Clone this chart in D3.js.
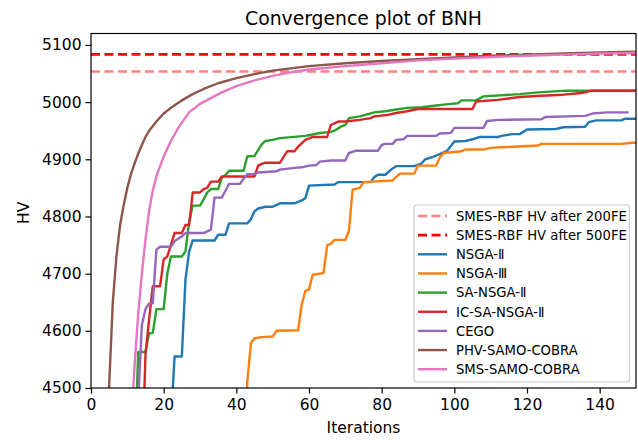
<!DOCTYPE html>
<html>
<head>
<meta charset="utf-8">
<script src="https://cdn.jsdelivr.net/npm/d3@7"></script>
<style>
  body { margin: 0; background: #fff; }
  svg { display: block; font-family: "DejaVu Sans", sans-serif; }
</style>
</head>
<body>
<svg id="chart" width="638" height="440"></svg>
<script>
// reference levels of SMES-RBF
const smes200 = 5053.5;
const smes500 = 5083.5;

// [iteration, HV]
const nsga2 = [[22,4440],[23,4555],[25,4555],[26,4690],[27,4738],[28,4758],[34,4758],[35,4768],[37,4768],[38,4788],[43,4788],[44,4795],[45,4809],[46,4814],[48,4817],[50,4817],[52,4823],[56,4823],[58,4828],[59,4832],[60,4854],[67,4856],[68,4860],[77,4860],[78,4869],[79,4873],[81,4873],[83,4884],[84,4888],[89,4888],[91,4893],[92,4900],[94,4904],[96,4909],[98,4915],[99,4923],[100,4931],[103,4932],[105,4935],[107,4939],[112,4939],[113,4941],[116,4944],[118,4944],[120,4952],[128,4953],[130,4956],[136,4957],[137,4965],[139,4968],[146,4968],[147,4971],[150,4971]];

const nsga3 = [[42,4300],[43,4510],[44,4578],[45,4587],[47,4589],[50,4590],[51,4600],[57,4601],[58,4646],[59,4670],[60,4672],[61,4698],[64,4701],[65,4750],[66,4752],[67,4759],[70,4759],[71,4775],[72,4847],[74,4850],[75,4860],[83,4863],[85,4875],[89,4875],[90,4889],[95,4889],[96,4903],[97,4911],[102,4914],[103,4917],[108,4917],[110,4920],[113,4921],[123,4924],[124,4927],[146,4927],[149,4929],[150,4929]];

const saNsga2 = [[12,4380],[13,4563],[15,4563],[16,4596],[17,4596],[18,4638],[20,4638],[21,4700],[22,4730],[25,4730],[26,4739],[27,4790],[28,4819],[30,4819],[31,4830],[32,4842],[33,4848],[35,4848],[36,4868],[37,4872],[38,4880],[42,4880],[43,4905],[45,4906],[46,4916],[47,4926],[48,4932],[50,4934],[52,4937],[59,4941],[63,4946],[66,4948],[67,4950],[69,4958],[70,4960],[71,4972],[74,4975],[78,4982],[81,4984],[84,4987],[87,4990],[91,4991],[95,4994],[99,4997],[101,4998],[102,5003],[106,5003],[108,5010],[118,5014],[123,5017],[131,5020],[150,5020]];

const icSaNsga2 = [[14,4350],[15,4560],[16,4620],[17,4678],[19,4678],[20,4725],[21,4730],[23,4771],[25,4771],[26,4785],[27,4785],[28,4842],[30,4842],[31,4848],[32,4850],[33,4861],[35,4861],[36,4870],[45,4870],[46,4889],[47,4892],[48,4894],[52,4894],[54,4914],[56,4914],[57,4922],[58,4928],[59,4934],[61,4939],[65,4939],[66,4960],[68,4966],[70,4966],[74,4969],[77,4972],[78,4975],[82,4978],[84,4981],[87,4984],[90,4988],[105,4988],[106,5001],[112,5004],[118,5009],[124,5011],[130,5013],[135,5016],[138,5020],[150,5020]];

const cego = [[13,4480],[14,4610],[15,4638],[16,4648],[17,4648],[18,4742],[19,4747],[22,4747],[23,4757],[25,4765],[26,4771],[31,4771],[33,4777],[34,4833],[36,4833],[37,4845],[38,4857],[41,4857],[42,4866],[43,4874],[45,4874],[46,4877],[51,4879],[52,4882],[56,4885],[58,4886],[60,4889],[62,4890],[63,4896],[66,4898],[70,4898],[71,4911],[73,4915],[79,4915],[80,4925],[81,4927],[83,4927],[84,4934],[86,4935],[87,4941],[95,4941],[96,4945],[99,4946],[100,4955],[108,4955],[109,4967],[112,4969],[124,4970],[125,4974],[136,4976],[138,4980],[142,4982],[148,4982]];

const phvSamo = [[4,4300],[5,4505],[6,4650],[7,4730],[8,4785],[9,4820],[10,4850],[11,4874],[12,4893],[13,4910],[14,4925],[15,4939],[16,4950],[18,4966],[20,4980],[22,4990],[25,5003],[28,5014],[31,5023],[35,5033],[40,5042],[45,5049],[50,5055],[60,5063],[70,5068],[80,5072],[90,5075],[100,5078],[110,5081],[120,5083],[130,5085],[140,5087],[150,5088]];

const smsSamo = [[11,4430],[12,4540],[13,4630],[14,4700],[15,4760],[16,4810],[17,4845],[18,4870],[20,4905],[22,4932],[24,4955],[27,4982],[30,4997],[33,5007],[36,5017],[40,5028],[45,5038],[50,5046],[55,5052],[60,5057],[70,5063],[80,5068],[90,5073],[100,5076],[110,5079],[120,5081],[130,5083],[140,5085],[150,5086]];

const xTicks = [0, 20, 40, 60, 80, 100, 120, 140];
const yTicks = [4500, 4600, 4700, 4800, 4900, 5000, 5100];

const series = [
  { name: "NSGA-Ⅱ", data: nsga2, color: "#1f77b4" },
  { name: "NSGA-Ⅲ", data: nsga3, color: "#ff7f0e" },
  { name: "SA-NSGA-Ⅱ", data: saNsga2, color: "#2ca02c" },
  { name: "IC-SA-NSGA-Ⅱ", data: icSaNsga2, color: "#d62728" },
  { name: "CEGO", data: cego, color: "#9467bd" },
  { name: "PHV-SAMO-COBRA", data: phvSamo, color: "#8c564b" },
  { name: "SMS-SAMO-COBRA", data: smsSamo, color: "#e377c2" }
];
const refs = [
  { name: "SMES-RBF HV after 200FE", value: smes200, color: "#ff8080", w: 2.3 },
  { name: "SMES-RBF HV after 500FE", value: smes500, color: "#ff0000", w: 2.8 }
];

const svg = d3.select("#chart");
const m = { left: 91, right: 636, top: 33.5, bottom: 388 };

const x = d3.scaleLinear().domain([0, 150]).range([m.left, m.right]);
const y = d3.scaleLinear().domain([4500, 5120]).range([m.bottom, m.top]);

svg.append("defs").append("clipPath").attr("id", "clip")
  .append("rect")
  .attr("x", m.left).attr("y", m.top)
  .attr("width", m.right - m.left).attr("height", m.bottom - m.top);

const plot = svg.append("g").attr("clip-path", "url(#clip)");

// dashed reference levels
refs.forEach(r => {
  plot.append("line")
    .attr("x1", x(0)).attr("x2", x(150))
    .attr("y1", y(r.value)).attr("y2", y(r.value))
    .attr("stroke", r.color)
    .attr("stroke-width", r.w)
    .attr("stroke-dasharray", "9,4.5");
});

const line = d3.line()
  .x(d => x(d[0]))
  .y(d => y(d[1]));

series.forEach(s => {
  plot.append("path")
    .datum(s.data)
    .attr("fill", "none")
    .attr("stroke", s.color)
    .attr("stroke-width", 2.4)
    .attr("stroke-linejoin", "round")
    .attr("d", line);
});

// axes
const xAxis = svg.append("g")
  .attr("transform", "translate(0," + m.bottom + ")")
  .call(d3.axisBottom(x).tickValues(xTicks).tickSize(5.5).tickPadding(5).tickSizeOuter(0));
const yAxis = svg.append("g")
  .attr("transform", "translate(" + m.left + ",0)")
  .call(d3.axisLeft(y).tickValues(yTicks).tickSize(5.5).tickPadding(4).tickSizeOuter(0).tickFormat(d3.format("d")));

[xAxis, yAxis].forEach(a => {
  a.select(".domain").remove();
  a.selectAll(".tick line").attr("stroke", "#000").attr("stroke-width", 1.2);
  a.selectAll(".tick text")
    .attr("fill", "#000")
    .style("font-size", "15.5px")
    .style("font-family", "DejaVu Sans");
});

// frame
svg.append("rect")
  .attr("x", m.left).attr("y", m.top)
  .attr("width", m.right - m.left).attr("height", m.bottom - m.top)
  .attr("fill", "none")
  .attr("stroke", "#000")
  .attr("stroke-width", 1.2);

svg.append("text")
  .attr("x", (m.left + m.right) / 2).attr("y", 25)
  .attr("text-anchor", "middle")
  .style("font-size", "18.8px")
  .text("Convergence plot of BNH");

svg.append("text")
  .attr("x", (m.left + m.right) / 2).attr("y", 433)
  .attr("text-anchor", "middle")
  .style("font-size", "15.5px")
  .text("Iterations");

svg.append("text")
  .attr("transform", "translate(29," + ((m.top + m.bottom) / 2 + 2) + ") rotate(-90)")
  .attr("text-anchor", "middle")
  .style("font-size", "15.5px")
  .text("HV");

// legend
const entries = refs.map(r => ({ name: r.name, color: r.color, dash: true, w: r.w }))
  .concat(series.map(s => ({ name: s.name, color: s.color, dash: false, w: 2.4 })));

const leg = svg.append("g");
leg.append("rect")
  .attr("x", 414).attr("y", 205)
  .attr("width", 215.5).attr("height", 177)
  .attr("rx", 3)
  .attr("fill", "#fff").attr("fill-opacity", 0.8)
  .attr("stroke", "#cccccc").attr("stroke-width", 1.2);

const row = leg.selectAll("g.entry")
  .data(entries)
  .enter().append("g")
  .attr("class", "entry")
  .attr("transform", (d, i) => "translate(0," + (216 + i * 19.15) + ")");

row.append("line")
  .attr("x1", 418).attr("x2", 447)
  .attr("stroke", d => d.color)
  .attr("stroke-width", d => d.w)
  .attr("stroke-dasharray", d => d.dash ? "9,4.5" : null);

row.append("text")
  .attr("x", 456)
  .attr("dy", "0.36em")
  .style("font-size", "13.2px")
  .text(d => d.name);
</script>
</body>
</html>
